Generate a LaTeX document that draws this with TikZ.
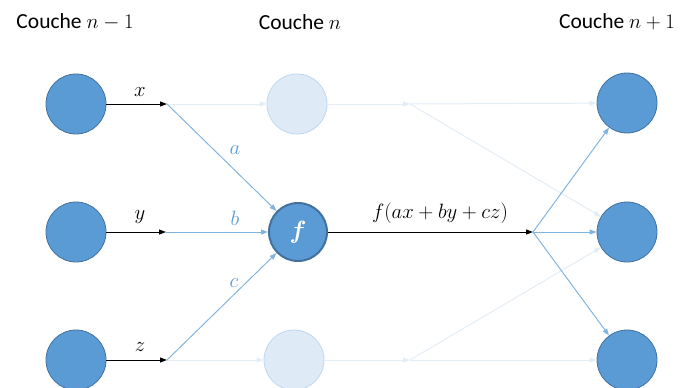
\documentclass[tikz,border=0pt]{standalone}
\usepackage{amsmath}
\usepackage{bm}
\usepackage{fontspec}
\setmainfont{Carlito}
\usetikzlibrary{arrows.meta}
\definecolor{neuron}{HTML}{5B9BD5}
\definecolor{neurondark}{HTML}{41719C}
\definecolor{wire}{HTML}{82B4E0}
\definecolor{pale}{HTML}{DEEBF7}
\definecolor{paleline}{HTML}{BDD7EE}
\definecolor{palewire}{HTML}{E3EDF7}
\tikzset{
  unit/.style={circle,minimum size=60pt,inner sep=0pt,fill=neuron,draw=neurondark,line width=0.8pt},
  ghost/.style={circle,minimum size=60pt,inner sep=0pt,fill=pale,draw=paleline,line width=0.8pt},
  sig/.style={line width=1pt,-{Triangle[length=7pt,width=5pt]}},
  weight/.style={wire,line width=1pt,-{Triangle[length=7pt,width=5pt]}},
  faint/.style={palewire,line width=1pt,-{Triangle[length=7pt,width=5pt]}},
  lbl/.style={font=\fontsize{20}{24}\selectfont},
  head/.style={font=\fontsize{21.5}{26}\selectfont}
}
\begin{document}
\begin{tikzpicture}[x=1pt,y=-1pt]
\useasboundingbox (0,0) rectangle (688,388);

\node[head] at (75,22) {Couche $n-1$};
\node[head] at (300,22) {Couche $n$};
\node[head] at (617,22) {Couche $n+1$};

\node[unit] (l1) at (76,104) {};
\node[unit] (l2) at (76,232) {};
\node[unit] (l3) at (76,360) {};

\node[ghost] (u1) at (297,104) {};
\node[ghost] (u3) at (294,360) {};
\node[unit,draw=neurondark,line width=2pt,minimum size=58pt] (f) at (298,232)
  {\fontsize{26}{30}\selectfont\color{white}$\bm{f}$};

\node[unit] (r1) at (627,103) {};
\node[unit] (r2) at (627,232) {};
\node[unit] (r3) at (627,360) {};

\coordinate (jx) at (167,104);
\coordinate (jy) at (166,232);
\coordinate (jz) at (167,360);
\coordinate (ju) at (410,104);
\coordinate (jd) at (410,360);
\coordinate (jo) at (533,232);

% faded paths
\draw[faint] (jx) -- (u1);
\draw[faint] (jz) -- (u3);
\draw[faint] (u1) -- (ju);
\draw[faint] (u3) -- (jd);
\draw[faint] (ju) -- (r1);
\draw[faint] (ju) -- (r2);
\draw[faint] (jd) -- (r3);
\draw[faint] (jd) -- (r2);

% inputs
\draw[sig] (l1) -- (jx);
\draw[sig] (l2) -- (jy);
\draw[sig] (l3) -- (jz);
\node[lbl] at (140,92) {$x$};
\node[lbl] at (140,217) {$y$};
\node[lbl] at (140,347) {$z$};

\draw[weight] (jx) -- (f);
\draw[weight] (jy) -- (f);
\draw[weight] (jz) -- (f);
\node[lbl,text=neuron] at (235,150) {$a$};
\node[lbl,text=neuron] at (235,218) {$b$};
\node[lbl,text=neuron] at (234,283) {$c$};

% output
\draw[sig] (f) -- (jo);
\node[lbl] at (440,213) {$f(ax+by+cz)$};
\draw[weight] (jo) -- (r1);
\draw[weight] (jo) -- (r2);
\draw[weight] (jo) -- (r3);
\end{tikzpicture}
\end{document}
